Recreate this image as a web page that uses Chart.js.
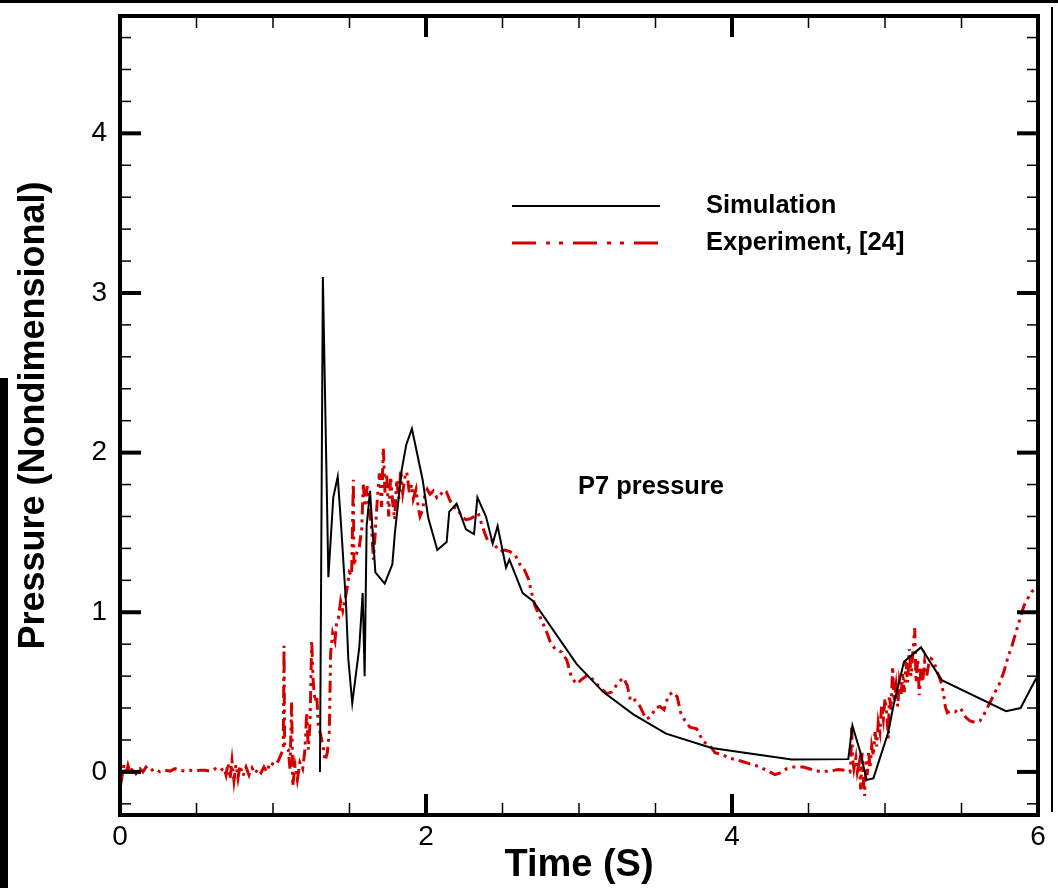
<!DOCTYPE html>
<html>
<head>
<meta charset="utf-8">
<script src="https://cdn.jsdelivr.net/npm/chart.js@4.4.1/dist/chart.umd.min.js"></script>
<style>
  html, body { margin: 0; padding: 0; background: #fff; }
  canvas { display: block; }
</style>
</head>
<body>
<canvas id="chart" width="1058" height="888"></canvas>
<script>
// Simulated P7 pressure history (time in s, nondimensional pressure)
const simTime = [1.307, 1.326, 1.362, 1.394, 1.423, 1.444, 1.477, 1.492, 1.518, 1.564, 1.586, 1.599, 1.612, 1.634,
  1.669, 1.730, 1.780, 1.797, 1.841, 1.871, 1.908, 1.978, 2.015, 2.074, 2.135, 2.152, 2.200, 2.261, 2.314, 2.336,
  2.392, 2.436, 2.468, 2.523, 2.545, 2.632, 2.701, 2.985, 3.159, 3.355, 3.569, 3.867, 4.390, 4.760, 4.787, 4.837,
  4.880, 4.924, 5.022, 5.054, 5.124, 5.235, 5.294, 5.371, 5.791, 5.886, 5.990];
const simPressure = [0.00, 3.10, 1.22, 1.72, 1.85, 1.56, 1.06, 0.71, 0.43, 0.78, 1.12, 0.60, 1.54, 1.76,
  1.25, 1.18, 1.30, 1.50, 1.89, 2.05, 2.15, 1.83, 1.59, 1.39, 1.44, 1.63, 1.68, 1.52, 1.49, 1.72,
  1.60, 1.43, 1.54, 1.28, 1.33, 1.12, 1.07, 0.675, 0.50, 0.36, 0.24, 0.15, 0.077, 0.08, 0.29, 0.13,
  -0.05, -0.04, 0.25, 0.41, 0.69, 0.78, 0.69, 0.575, 0.38, 0.40, 0.59];

// Measured P7 pressure history, reference [24]
const expTime = [0.003, 0.013, 0.026, 0.039, 0.052, 0.065, 0.085, 0.105, 0.131, 0.150, 0.170, 0.196, 0.229, 0.261,
  0.294, 0.327, 0.359, 0.392, 0.425, 0.458, 0.490, 0.523, 0.556, 0.588, 0.621, 0.654, 0.680, 0.693, 0.706, 0.719,
  0.732, 0.745, 0.758, 0.771, 0.784, 0.804, 0.824, 0.843, 0.863, 0.882, 0.902, 0.922, 0.941, 0.961, 0.980, 1.013,
  1.035, 1.057, 1.067, 1.072, 1.076, 1.100, 1.111, 1.122, 1.129, 1.144, 1.159, 1.176, 1.194, 1.209, 1.220, 1.231,
  1.242, 1.253, 1.263, 1.275, 1.286, 1.296, 1.312, 1.329, 1.340, 1.355, 1.368, 1.377, 1.390, 1.405, 1.416, 1.427,
  1.442, 1.456, 1.471, 1.486, 1.499, 1.514, 1.525, 1.529, 1.547, 1.564, 1.580, 1.590, 1.601, 1.616, 1.629, 1.645,
  1.656, 1.667, 1.682, 1.695, 1.710, 1.721, 1.732, 1.743, 1.756, 1.769, 1.782, 1.795, 1.808, 1.822, 1.835, 1.848,
  1.863, 1.874, 1.891, 1.907, 1.917, 1.935, 1.950, 1.961, 1.978, 1.993, 2.008, 2.026, 2.048, 2.070, 2.092, 2.118,
  2.135, 2.157, 2.178, 2.205, 2.233, 2.261, 2.288, 2.314, 2.342, 2.364, 2.386, 2.407, 2.436, 2.458, 2.484, 2.516,
  2.549, 2.582, 2.614, 2.641, 2.669, 2.691, 2.712, 2.741, 2.767, 2.799, 2.810, 2.843, 2.887, 2.920, 2.952, 2.985,
  3.018, 3.061, 3.116, 3.181, 3.214, 3.257, 3.290, 3.316, 3.338, 3.366, 3.399, 3.438, 3.475, 3.497, 3.529, 3.556,
  3.584, 3.616, 3.642, 3.665, 3.693, 3.725, 3.769, 3.791, 3.812, 3.856, 3.889, 3.933, 3.987, 4.052, 4.118, 4.172,
  4.227, 4.281, 4.314, 4.358, 4.401, 4.466, 4.521, 4.575, 4.641, 4.695, 4.739, 4.771, 4.776, 4.782, 4.789, 4.797,
  4.810, 4.819, 4.832, 4.841, 4.850, 4.858, 4.867, 4.876, 4.884, 4.893, 4.902, 4.913, 4.924, 4.935, 4.946, 4.956,
  4.967, 4.978, 4.989, 5.000, 5.011, 5.022, 5.028, 5.039, 5.050, 5.059, 5.072, 5.083, 5.093, 5.105, 5.116, 5.126,
  5.137, 5.148, 5.159, 5.170, 5.181, 5.194, 5.203, 5.214, 5.224, 5.235, 5.246, 5.259, 5.272, 5.286, 5.301, 5.316,
  5.333, 5.348, 5.364, 5.381, 5.394, 5.407, 5.425, 5.458, 5.490, 5.510, 5.529, 5.556, 5.588, 5.621, 5.647, 5.673,
  5.699, 5.725, 5.752, 5.778, 5.804, 5.830, 5.856, 5.882, 5.908, 5.935, 5.961, 5.993];
const expPressure = [0.02, -0.03, 0.045, -0.02, 0.04, -0.005, 0.025, -0.01, 0.02, 0.00, 0.03, 0.005, 0.02, 0.00,
  0.01, 0.005, 0.02, 0.01, 0.005, 0.01, 0.005, 0.01, 0.01, 0.005, 0.02, 0.005, 0.025, -0.02, 0.055, -0.045,
  0.07, -0.055, 0.045, -0.04, 0.04, -0.025, 0.03, -0.02, 0.025, -0.01, 0.02, -0.005, 0.03, 0.00, 0.06, 0.04,
  0.07, 0.12, 0.15, 0.79, 0.16, 0.14, 0.02, 0.44, -0.09, 0.04, -0.05, 0.06, 0.02, 0.14, 0.37, 0.14,
  0.31, 0.82, 0.56, 0.44, 0.48, 0.29, 0.23, 0.15, 0.07, 0.12, 0.25, 0.75, 0.87, 0.82, 0.94, 0.96,
  1.07, 1.01, 1.08, 1.16, 1.25, 1.23, 1.83, 1.29, 1.37, 1.41, 1.52, 1.81, 1.66, 1.79, 1.64, 1.52,
  1.33, 1.48, 1.71, 1.87, 1.66, 2.03, 1.75, 1.87, 1.60, 1.85, 1.69, 1.58, 1.83, 1.71, 1.89, 1.75,
  1.85, 1.88, 1.75, 1.80, 1.71, 1.77, 1.65, 1.60, 1.64, 1.74, 1.77, 1.74, 1.76, 1.72, 1.75, 1.73,
  1.75, 1.70, 1.66, 1.65, 1.60, 1.58, 1.585, 1.60, 1.62, 1.55, 1.49, 1.44, 1.45, 1.41, 1.38, 1.39,
  1.38, 1.36, 1.30, 1.27, 1.21, 1.12, 1.04, 0.98, 0.925, 0.85, 0.82, 0.77, 0.75, 0.70, 0.59, 0.55,
  0.58, 0.61, 0.55, 0.49, 0.50, 0.56, 0.59, 0.54, 0.44, 0.45, 0.41, 0.33, 0.35, 0.40, 0.41, 0.39,
  0.48, 0.50, 0.47, 0.37, 0.32, 0.28, 0.27, 0.23, 0.19, 0.165, 0.12, 0.11, 0.085, 0.07, 0.05, 0.035,
  0.01, -0.017, -0.006, 0.02, 0.03, 0.03, 0.015, 0.002, 0.005, 0.015, 0.01, 0.00, 0.04, 0.29, 0.08, 0.02,
  0.09, 0.00, 0.06, -0.11, 0.12, -0.04, -0.15, 0.08, -0.02, 0.13, 0.02, 0.16, 0.10, 0.25, 0.16, 0.31,
  0.25, 0.41, 0.33, 0.46, 0.37, 0.21, 0.48, 0.39, 0.66, 0.44, 0.54, 0.41, 0.56, 0.48, 0.62, 0.50,
  0.69, 0.56, 0.77, 0.60, 0.73, 0.90, 0.56, 0.71, 0.48, 0.66, 0.56, 0.69, 0.60, 0.675, 0.71, 0.70,
  0.65, 0.61, 0.57, 0.50, 0.41, 0.37, 0.38, 0.375, 0.40, 0.375, 0.34, 0.32, 0.31, 0.32, 0.36, 0.41,
  0.46, 0.51, 0.56, 0.63, 0.72, 0.79, 0.875, 0.96, 1.04, 1.09, 1.13, 1.16];

// Axis tick labels and text
const xTickValues = [0, 2, 4, 6];
const yTickValues = [0, 1, 2, 3, 4];
const seriesLabels = ['Simulation', 'Experiment, [24]'];
const xAxisTitle = 'Time (S)';
const yAxisTitle = 'Pressure (Nondimensional)';
const noteText = 'P7 pressure';

const FONT = "'Liberation Sans', Arial, Helvetica, sans-serif";
const toPoints = (xs, ys) => xs.map((x, i) => ({ x: x, y: ys[i] }));

// Frame, inward tick marks on all four sides, legend and the note
const framePlugin = {
  id: 'framePlugin',
  beforeDraw(chart) {
    const ctx = chart.ctx;
    ctx.save();
    ctx.fillStyle = '#000';
    ctx.fillRect(0, 0, 1058, 3);
    ctx.fillRect(0, 378, 8, 510);
    ctx.fillRect(1051, 7, 2, 805);
    ctx.restore();
  },
  afterDatasetsDraw(chart) {
    const ctx = chart.ctx;
    const { left, right, top, bottom } = chart.chartArea;
    const xs = chart.scales.x, ys = chart.scales.y;
    ctx.save();
    ctx.strokeStyle = '#000';
    ctx.lineCap = 'butt';

    const seg = (x1, y1, x2, y2, w) => {
      ctx.lineWidth = w;
      ctx.beginPath();
      ctx.moveTo(x1, y1);
      ctx.lineTo(x2, y2);
      ctx.stroke();
    };

    // y ticks: major every 1, minor every 0.2
    for (let k = -1; k <= 23; k++) {
      const v = k * 0.2;
      if (v < ys.min || v > ys.max) continue;
      const y = ys.getPixelForValue(v);
      const major = Math.abs(v - Math.round(v)) < 1e-6;
      const len = major ? 21 : 11;
      const w = major ? 4 : 1.5;
      seg(left, y, left + len, y, w);
      seg(right, y, right - len, y, w);
    }
    // x ticks: major every 2, minor every 0.5
    for (let k = 0; k <= 12; k++) {
      const v = k * 0.5;
      const x = xs.getPixelForValue(v);
      const major = k % 4 === 0;
      const len = major ? 21 : 12;
      const w = major ? 4 : 1.5;
      seg(x, bottom, x, bottom - len, w);
      seg(x, top, x, top + len, w);
    }

    // plot frame
    ctx.lineWidth = 4;
    ctx.strokeRect(left, top, right - left, bottom - top);

    // legend
    const ds = chart.data.datasets;
    const rows = [206, 243];
    ds.forEach((d, i) => {
      ctx.strokeStyle = d.borderColor;
      ctx.lineWidth = d.borderWidth;
      ctx.setLineDash(d.legendDash || []);
      ctx.beginPath();
      ctx.moveTo(512, rows[i]);
      ctx.lineTo(660, rows[i]);
      ctx.stroke();
      ctx.setLineDash([]);
      ctx.fillStyle = '#000';
      ctx.font = 'bold 25.5px ' + FONT;
      ctx.textAlign = 'left';
      ctx.textBaseline = 'middle';
      ctx.fillText(d.label, 706, rows[i]);
    });

    // note
    ctx.fillStyle = '#000';
    ctx.font = 'bold 25.5px ' + FONT;
    ctx.textAlign = 'left';
    ctx.textBaseline = 'middle';
    ctx.fillText(noteText, 578, 487);
    ctx.restore();
  }
};

new Chart(document.getElementById('chart'), {
  type: 'line',
  data: {
    datasets: [
      {
        label: seriesLabels[0],
        data: toPoints(simTime, simPressure),
        borderColor: '#000000',
        borderWidth: 2,
        pointRadius: 0,
        tension: 0,
        order: 0
      },
      {
        label: seriesLabels[1],
        data: toPoints(expTime, expPressure),
        borderColor: '#d40000',
        borderWidth: 3,
        borderDash: [12, 5, 3, 5, 3, 5],
        legendDash: [24, 10, 4, 9, 4, 10],
        pointRadius: 0,
        tension: 0,
        order: 1
      }
    ]
  },
  options: {
    responsive: false,
    animation: false,
    devicePixelRatio: 1,
    layout: { padding: { top: 16, right: 20, left: 0, bottom: 0 } },
    plugins: {
      legend: { display: false },
      tooltip: { enabled: false },
      title: { display: false }
    },
    scales: {
      x: {
        type: 'linear',
        min: 0,
        max: 6,
        grid: { display: false, drawTicks: false, tickLength: 0 },
        border: { display: false },
        ticks: {
          color: '#000',
          font: { family: FONT, size: 28 },
          padding: 5,
          maxRotation: 0,
          autoSkip: false,
          callback: v => String(v)
        },
        afterBuildTicks: s => { s.ticks = xTickValues.map(v => ({ value: v })); },
        afterFit: s => { s.height = 73; s.paddingLeft = 0; s.paddingRight = 0; },
        title: {
          display: true,
          text: xAxisTitle,
          color: '#000',
          font: { family: FONT, size: 38, weight: 'bold' },
          padding: { top: 0, bottom: 0 }
        }
      },
      y: {
        type: 'linear',
        min: -0.27,
        max: 4.735,
        grid: { display: false, drawTicks: false, tickLength: 0 },
        border: { display: false },
        ticks: {
          color: '#000',
          font: { family: FONT, size: 28 },
          padding: 13,
          autoSkip: false,
          callback: v => String(v)
        },
        afterBuildTicks: s => { s.ticks = yTickValues.map(v => ({ value: v })); },
        afterFit: s => { s.width = 120; s.paddingTop = 0; s.paddingBottom = 0; },
        title: {
          display: true,
          text: yAxisTitle,
          color: '#000',
          font: { family: FONT, size: 36, weight: 'bold' },
          padding: { top: 12, bottom: 0 }
        }
      }
    }
  },
  plugins: [framePlugin]
});
</script>
</body>
</html>
